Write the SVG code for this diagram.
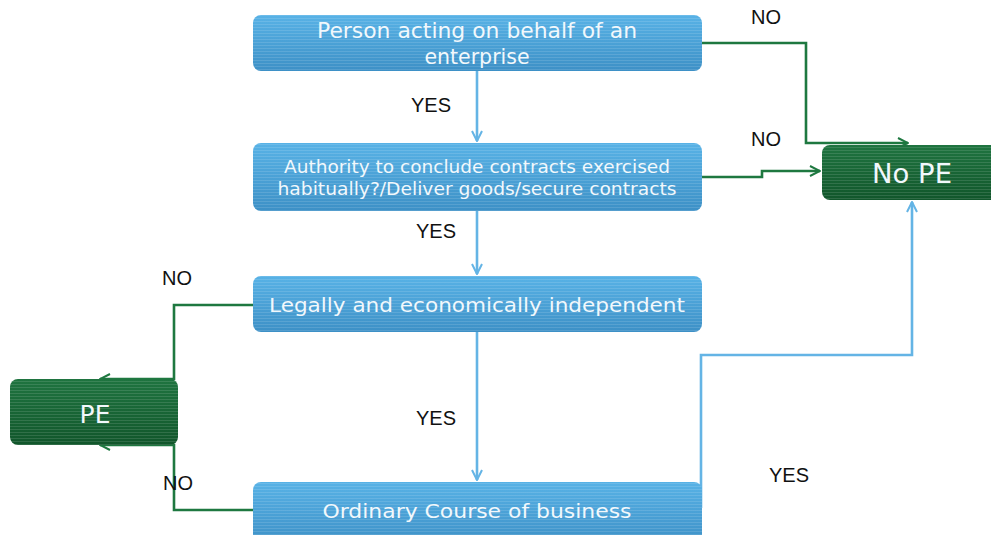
<svg xmlns="http://www.w3.org/2000/svg" width="991" height="535" viewBox="0 0 991 535">
<style>
.lbl{font-family:"Liberation Sans",Arial,sans-serif;font-size:20px;fill:#111;text-anchor:middle}
.bt{font-family:"DejaVu Sans",Verdana,sans-serif;fill:#f2f8fc;text-anchor:middle}
.blue{fill:url(#gb)}
.green{fill:url(#gg)}
.cb{fill:none;stroke:#64b4e5;stroke-width:2.6}
.cg{fill:none;stroke:#1e7840;stroke-width:2.6}
</style>
<defs>
<linearGradient id="gb" x1="0" y1="0" x2="0" y2="1">
<stop offset="0" stop-color="#58b2e6"/>
<stop offset="1" stop-color="#3d90c6"/>
</linearGradient>
<linearGradient id="gg" x1="0" y1="0" x2="0" y2="1">
<stop offset="0" stop-color="#1f7440"/>
<stop offset="1" stop-color="#11562b"/>
</linearGradient>
<pattern id="st" width="4" height="3" patternUnits="userSpaceOnUse">
<rect width="4" height="1" fill="#ffffff" fill-opacity="0.12"/>
</pattern>
<marker id="ab" viewBox="0 0 12 12" refX="11" refY="6" markerWidth="12" markerHeight="12" markerUnits="userSpaceOnUse" orient="auto">
<path d="M1,1 L11,6 L1,11" fill="none" stroke="#64b4e5" stroke-width="2"/>
</marker>
<marker id="ag" viewBox="0 0 12 12" refX="11" refY="6" markerWidth="12" markerHeight="12" markerUnits="userSpaceOnUse" orient="auto">
<path d="M1,1 L11,6 L1,11" fill="none" stroke="#1e7840" stroke-width="2"/>
</marker>
</defs>
<rect width="991" height="535" fill="#ffffff"/>
<g id="connectors">
<path class="cb" d="M477,71 V141" marker-end="url(#ab)"/>
<path class="cb" d="M477,211 V274" marker-end="url(#ab)"/>
<path class="cb" d="M477,332 V480" marker-end="url(#ab)"/>
<path class="cb" d="M701,508 V355 H912 V202" marker-end="url(#ab)"/>
<path class="cg" d="M702,43 H806 V143 H908" marker-end="url(#ag)"/>
<path class="cg" d="M702,177 H762 V171 H820" marker-end="url(#ag)"/>
<path class="cg" d="M253,305 H174 V379 H100" marker-end="url(#ag)"/>
<path class="cg" d="M253,510 H174 V445 H100" marker-end="url(#ag)"/>
</g>
<g id="labels">
<text class="lbl" x="766" y="24">NO</text>
<text class="lbl" x="766" y="146">NO</text>
<text class="lbl" x="431" y="112">YES</text>
<text class="lbl" x="436" y="238">YES</text>
<text class="lbl" x="177" y="285">NO</text>
<text class="lbl" x="436" y="425">YES</text>
<text class="lbl" x="178" y="490">NO</text>
<text class="lbl" x="789" y="482">YES</text>
</g>
<g id="n1">
<rect class="blue" x="253" y="15" width="449" height="56" rx="8"/>
<rect fill="url(#st)" x="253" y="15" width="449" height="56" rx="8"/>
<text class="bt" font-size="20.5" x="477" y="38" textLength="320" lengthAdjust="spacingAndGlyphs">Person acting on behalf of an</text>
<text class="bt" font-size="20.5" x="477" y="64">enterprise</text>
</g>
<g id="n2">
<rect class="blue" x="253" y="143" width="449" height="68" rx="8"/>
<rect fill="url(#st)" x="253" y="143" width="449" height="68" rx="8"/>
<text class="bt" font-size="17.5" x="477" y="173" textLength="386" lengthAdjust="spacingAndGlyphs">Authority to conclude contracts exercised</text>
<text class="bt" font-size="17.5" x="477" y="195" textLength="399" lengthAdjust="spacingAndGlyphs">habitually?/Deliver goods/secure contracts</text>
</g>
<g id="n3">
<rect class="blue" x="253" y="276" width="449" height="56" rx="8"/>
<rect fill="url(#st)" x="253" y="276" width="449" height="56" rx="8"/>
<text class="bt" font-size="20" x="477" y="312" textLength="416" lengthAdjust="spacingAndGlyphs">Legally and economically independent</text>
</g>
<g id="n4">
<rect class="blue" x="253" y="482" width="449" height="62" rx="8"/>
<rect fill="url(#st)" x="253" y="482" width="449" height="62" rx="8"/>
<text class="bt" font-size="20" x="477" y="518" textLength="309" lengthAdjust="spacingAndGlyphs">Ordinary Course of business</text>
</g>
<g id="nope">
<rect class="green" x="822" y="145" width="180" height="55" rx="8"/>
<rect fill="url(#st)" x="822" y="145" width="180" height="55" rx="8"/>
<text class="bt" font-size="26" x="912" y="183" textLength="80" lengthAdjust="spacingAndGlyphs">No PE</text>
</g>
<g id="pe">
<rect class="green" x="10" y="379" width="168" height="66" rx="8"/>
<rect fill="url(#st)" x="10" y="379" width="168" height="66" rx="8"/>
<text class="bt" font-size="25" x="95" y="423">PE</text>
</g>
</svg>
